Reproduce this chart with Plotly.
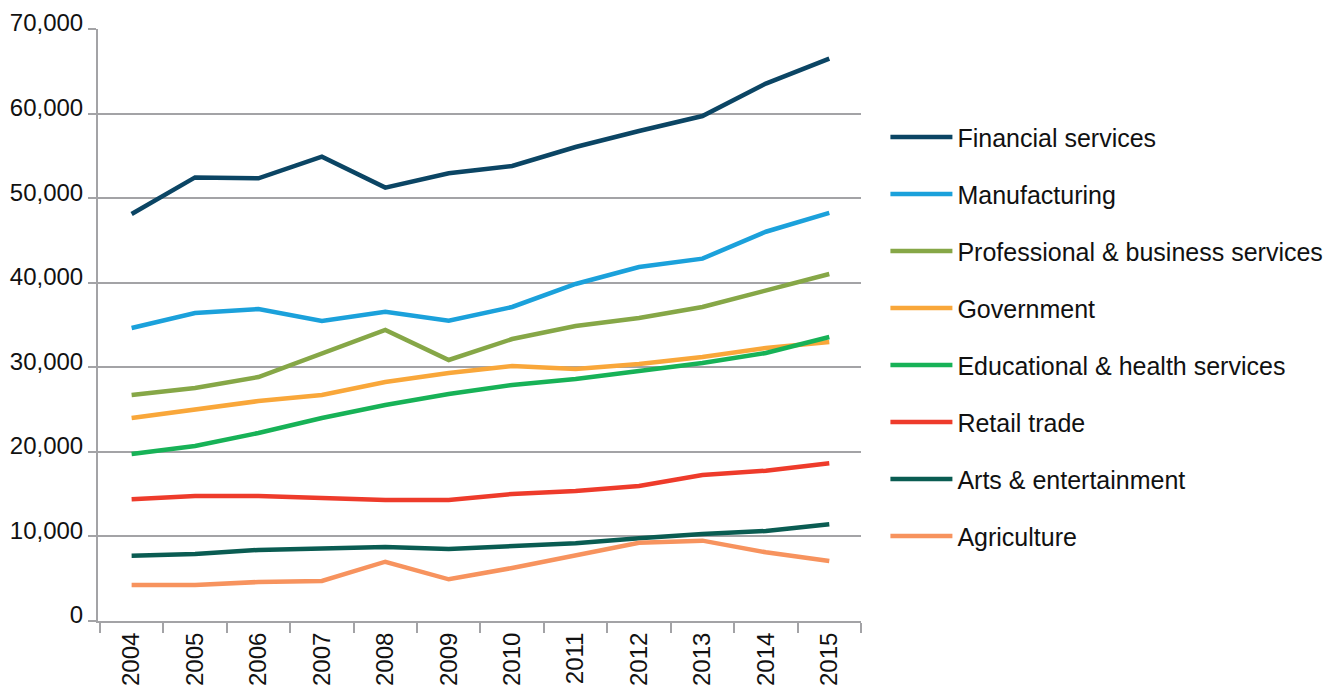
import plotly.graph_objects as go

years = ["2004", "2005", "2006", "2007", "2008", "2009", "2010", "2011", "2012", "2013", "2014", "2015"]

financial = [48130, 52450, 52350, 54900, 51250, 52950, 53800, 56050, 57940, 59710, 63550, 66500]
manufacturing = [34650, 36420, 36890, 35470, 36570, 35510, 37130, 39850, 41860, 42850, 46030, 48260]
professional = [26720, 27550, 28850, 31690, 34410, 30860, 33340, 34880, 35830, 37130, 39020, 41030]
government = [24000, 25070, 26010, 26720, 28260, 29320, 30150, 29800, 30390, 31220, 32280, 32990]
educational = [19750, 20690, 22230, 24000, 25540, 26840, 27910, 28620, 29560, 30510, 31690, 33580]
retail = [14390, 14780, 14780, 14540, 14310, 14310, 15020, 15370, 15960, 17260, 17770, 18650]
arts = [7720, 7920, 8400, 8630, 8750, 8510, 8870, 9190, 9780, 10290, 10640, 11430]
agriculture = [4260, 4260, 4610, 4730, 7010, 4930, 6270, 7800, 9260, 9500, 8120, 7090]

series_names = ["Financial services", "Manufacturing", "Professional & business services",
                "Government", "Educational & health services", "Retail trade",
                "Arts & entertainment", "Agriculture"]
series_values = [financial, manufacturing, professional, government, educational, retail, arts, agriculture]
series_colors = ["#0B4564", "#1BA1DB", "#86A747", "#F9A73A", "#17B257", "#EE3B2B", "#0A5C52", "#F7935E"]

y_ticks = [0, 10000, 20000, 30000, 40000, 50000, 60000, 70000]
y_tick_labels = ["0", "10,000", "20,000", "30,000", "40,000", "50,000", "60,000", "70,000"]

fig = go.Figure()
for i, (name, vals, col) in enumerate(zip(series_names, series_values, series_colors)):
    fig.add_trace(go.Scatter(
        x=years, y=vals, name=name, mode="lines",
        line=dict(color=col, width=4.5),
        legendgroup=f"g{i}",
    ))

axis_gray = "#A3A3A6"
fig.update_layout(
    width=1339, height=687,
    margin=dict(l=90, r=486, t=21, b=74, autoexpand=False),
    paper_bgcolor="white", plot_bgcolor="white",
    font=dict(family="Liberation Sans, Arial, sans-serif", size=25, color="#111111"),
    showlegend=True,
    legend=dict(
        x=1.032, y=0.856, xanchor="left", yanchor="top",
        font=dict(size=25, color="#111111"),
        tracegroupgap=21.5,
        itemwidth=62,
        bgcolor="rgba(0,0,0,0)",
    ),
)
fig.update_xaxes(
    type="category", range=[-0.53, 11.5],
    showgrid=False, showline=True, linecolor=axis_gray, linewidth=2,
    ticks="outside", tickson="boundaries", ticklen=10, tickcolor=axis_gray, tickwidth=2,
    tickangle=-90, tickfont=dict(size=24),
)
fig.update_yaxes(
    range=[0, 70000], tickvals=y_ticks, ticktext=y_tick_labels,
    showgrid=True, gridcolor=axis_gray, gridwidth=2,
    showline=True, linecolor=axis_gray, linewidth=2,
    ticks="outside", ticklen=8, tickcolor=axis_gray, tickwidth=2,
    ticklabelstandoff=0, ticklabelshift=-6,
    zeroline=False, tickfont=dict(size=24),
)

fig.write_html("out.html")
